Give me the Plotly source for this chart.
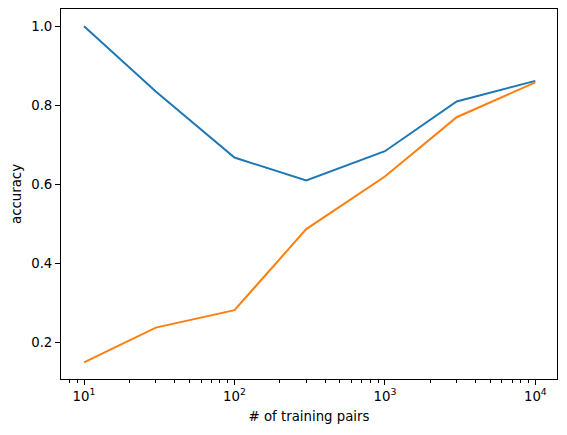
import plotly.graph_objects as go

pairs = [10, 30, 100, 300, 1000, 3000, 10000]
acc_blue = [1.0, 0.835, 0.668, 0.610, 0.684, 0.810, 0.862]
acc_orange = [0.150, 0.238, 0.282, 0.487, 0.620, 0.770, 0.858]
x_tickvals = [10, 100, 1000, 10000]
x_ticktext = ["10<sup>1</sup>", "10<sup>2</sup>", "10<sup>3</sup>", "10<sup>4</sup>"]
y_tickvals = [0.2, 0.4, 0.6, 0.8, 1.0]
y_ticktext = ["0.2", "0.4", "0.6", "0.8", "1.0"]
minor_vals = [m * 10 ** d for d in range(0, 5) for m in range(2, 10)]

fig = go.Figure()
fig.add_trace(go.Scatter(x=pairs, y=acc_blue, mode="lines",
                         line=dict(color="#1f77b4", width=2), showlegend=False))
fig.add_trace(go.Scatter(x=pairs, y=acc_orange, mode="lines",
                         line=dict(color="#ff7f0e", width=2), showlegend=False))

font = dict(family="DejaVu Sans", size=13.3, color="black")
fig.update_layout(
    width=567, height=435,
    margin=dict(l=61, r=10, t=9, b=56),
    plot_bgcolor="white", paper_bgcolor="white",
    font=font,
    xaxis=dict(type="log", range=[0.847, 4.144],
               tickmode="array", tickvals=x_tickvals, ticktext=x_ticktext,
               ticks="outside", ticklen=5, tickwidth=1, tickcolor="black",
               showline=True, linecolor="black", linewidth=1, mirror=True,
               showgrid=False, zeroline=False,
               minor=dict(tickmode="array", tickvals=minor_vals, ticks="outside",
                          ticklen=3, tickwidth=0.8, tickcolor="black", showgrid=False),
               title=dict(text="# of training pairs", standoff=8, font=font),
               tickfont=font),
    yaxis=dict(range=[0.108, 1.0437],
               tickmode="array", tickvals=y_tickvals, ticktext=y_ticktext,
               ticks="outside", ticklen=5, tickwidth=1, tickcolor="black",
               showline=True, linecolor="black", linewidth=1, mirror=True,
               showgrid=False, zeroline=False,
               title=dict(text="accuracy", standoff=6, font=font),
               tickfont=font),
)
fig.write_html("out.html")
